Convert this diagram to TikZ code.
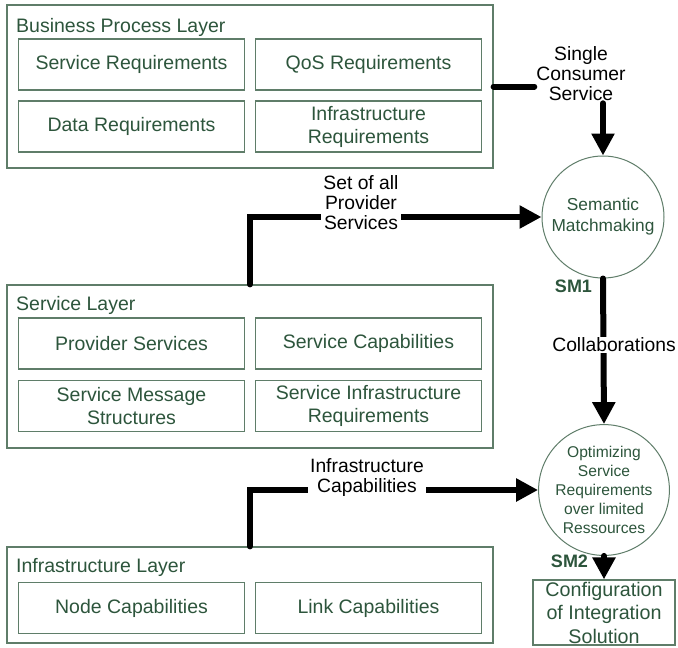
\documentclass[tikz,border=0pt]{standalone}
\usepackage{fontspec}
\setmainfont{Liberation Sans}
\usetikzlibrary{arrows.meta}
\definecolor{gtext}{RGB}{45,85,60}
\definecolor{gline}{RGB}{95,125,105}
\begin{document}
\begin{tikzpicture}[x=1pt,y=-1pt,
  layer/.style={draw=gline, line width=1.2pt, minimum width=486pt, inner sep=0pt},
  item/.style={draw=gline, line width=1.2pt, minimum width=226pt, minimum height=51pt,
    align=center, text=gtext, font=\fontsize{19.5}{23}\selectfont, inner sep=0pt},
  ttl/.style={anchor=base west, text=gtext, font=\fontsize{19.5}{23}\selectfont, inner sep=0pt},
  lbl/.style={align=center, font=\fontsize{19.3}{20}\selectfont, fill=white, inner sep=2pt},
  conn/.style={line width=6pt, line cap=round},
  arr/.style={conn, -{Triangle[width=22pt,length=22pt]}},
  circ/.style={circle, draw=gline, line width=1pt, text=gtext, align=center, inner sep=0pt},
  smlbl/.style={text=gtext, font=\fontsize{18}{20}\selectfont\bfseries, inner sep=0pt}]
\useasboundingbox[fill=white] (0,0) rectangle (678,648);

% Business process layer
\node[layer, minimum height=163pt] (bpl) at (250,86.5) {};
\node[ttl] (bplt) at (16,32) {Business Process Layer};
\node[item] (sr) at (131.5,64.5) {Service Requirements};
\node[item] (qos) at (368.5,64.5) {QoS Requirements};
\node[item] (dr) at (131.5,126.5) {Data Requirements};
\node[item] (ir) at (368.5,126.5) {Infrastructure\\Requirements};

% Service layer
\node[layer, minimum height=163pt] (sl) at (250,366.5) {};
\node[ttl] (slt) at (16,310) {Service Layer};
\node[item] (ps) at (131.5,343.5) {Provider Services};
\node[item] (sc) at (368.5,343.5) {Service Capabilities};
\node[item] (sms) at (131.5,406) {Service Message\\Structures};
\node[item] (sir) at (368.5,406) {Service Infrastructure\\Requirements};

% Infrastructure layer
\node[layer, minimum height=96pt] (il) at (250,595) {};
\node[ttl] (ilt) at (16,572) {Infrastructure Layer};
\node[item] (nc) at (131.5,608) {Node Capabilities};
\node[item] (lc) at (368.5,608) {Link Capabilities};

% Right column
\node[circ, minimum size=122pt, font=\fontsize{17.3}{21}\selectfont] (sm) at (603,217) {Semantic\\Matchmaking};
\node[circ, minimum size=124pt, font=\fontsize{15.6}{19}\selectfont] (opt) at (604,490) {Optimizing\\Service\\Requirements\\over limited\\Ressources};
\node[draw=gline, line width=1.2pt, minimum width=142pt, minimum height=65pt, align=center,
  text=gtext, font=\fontsize{19.7}{23.5}\selectfont, inner sep=0pt] (cfg) at (604,612.5) {Configuration\\of Integration\\Solution};

% Labels
\node[lbl] (scs) at (581,74) {Single\\Consumer\\Service};
\node[smlbl] (sm1) at (573.5,286.5) {SM1};
\node[smlbl] (sm2) at (569.5,561) {SM2};

% Connectors
\draw[conn] (bpl.east) -- (bpl.east -| scs.west);
\draw[arr] (scs.south -| sm.north) -- (sm.north);
\draw[arr] (sl.north) |- (sm.west);
\draw[arr] (il.north) |- (opt.west);
\draw[arr] (sm.south) -- (opt.north);
\draw[arr] (opt.south) -- (cfg.north);

% Labels on connectors
\node[lbl] (sap) at (361,203) {Set of all\\Provider\\Services};
\node[lbl] (ic) at (367,478) {Infrastructure\\Capabilities};
\node[lbl, inner sep=1pt] (col) at (614,345) {Collaborations};
\end{tikzpicture}
\end{document}
